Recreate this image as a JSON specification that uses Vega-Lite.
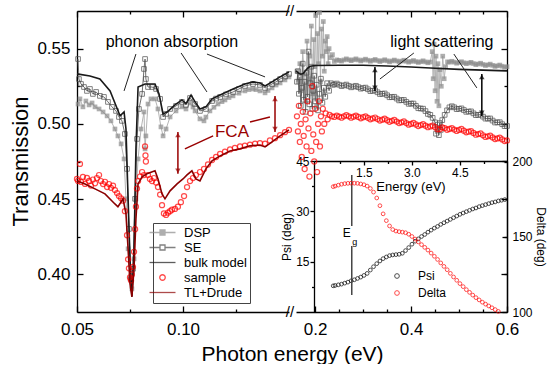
{
"$schema":"https://vega.github.io/schema/vega-lite/v6.json",
"background":"white",
"padding":{"left":9,"top":4,"right":0,"bottom":0},
"config":{"font":"Liberation Sans","view":{"stroke":null},
 "axis":{"grid":false,"domainColor":"#000","domainWidth":1.3,"tickColor":"#000","tickWidth":1.3,"labelColor":"#000","titleColor":"#000","titleFontWeight":"normal","labelFont":"Liberation Sans","titleFont":"Liberation Sans","labelOverlap":false,"labelFlush":false},
 "legend":{"labelFont":"Liberation Sans"}},
"spacing":7,
"bounds":"flush",
"resolve":{"scale":{"x":"independent","y":"independent","color":"independent","stroke":"independent"},"legend":{"color":"independent","stroke":"independent"}},
"datasets":{
"dspL":[{"e":0.0505,"t":0.5132},{"e":0.0514,"t":0.5166},{"e":0.0528,"t":0.5113},{"e":0.0542,"t":0.5152},{"e":0.0557,"t":0.5126},{"e":0.0571,"t":0.5139},{"e":0.0585,"t":0.5113},{"e":0.0604,"t":0.5099},{"e":0.0623,"t":0.5079},{"e":0.0642,"t":0.5053},{"e":0.066,"t":0.502},{"e":0.0679,"t":0.4966},{"e":0.0693,"t":0.492},{"e":0.0708,"t":0.4867},{"e":0.0722,"t":0.4767},{"e":0.0731,"t":0.4502},{"e":0.0741,"t":0.417},{"e":0.075,"t":0.397},{"e":0.0759,"t":0.3904},{"e":0.0769,"t":0.4103},{"e":0.0778,"t":0.4502},{"e":0.0788,"t":0.4767},{"e":0.0802,"t":0.4966},{"e":0.0816,"t":0.5079},{"e":0.0821,"t":0.4834},{"e":0.0825,"t":0.492},{"e":0.0835,"t":0.5132},{"e":0.0849,"t":0.5166},{"e":0.0868,"t":0.5166},{"e":0.0882,"t":0.5099},{"e":0.0896,"t":0.498},{"e":0.0906,"t":0.492},{"e":0.092,"t":0.4966},{"e":0.0939,"t":0.5046},{"e":0.0967,"t":0.5086},{"e":0.0995,"t":0.5113},{"e":0.1014,"t":0.5099},{"e":0.1033,"t":0.5139},{"e":0.1047,"t":0.5112},{"e":0.1057,"t":0.5086},{"e":0.108,"t":0.5033},{"e":0.1099,"t":0.502},{"e":0.1108,"t":0.5045},{"e":0.1127,"t":0.5086},{"e":0.1146,"t":0.511},{"e":0.1165,"t":0.5132},{"e":0.1184,"t":0.5148},{"e":0.1198,"t":0.5159},{"e":0.1217,"t":0.5175},{"e":0.1236,"t":0.5186},{"e":0.1264,"t":0.5204},{"e":0.1292,"t":0.5219},{"e":0.1311,"t":0.5228},{"e":0.133,"t":0.5232},{"e":0.1344,"t":0.5228},{"e":0.1363,"t":0.5219},{"e":0.1387,"t":0.5206},{"e":0.1401,"t":0.5222},{"e":0.142,"t":0.5239},{"e":0.1439,"t":0.5258},{"e":0.1458,"t":0.5272},{"e":0.1481,"t":0.5292},{"e":0.15,"t":0.5312}],
"seL":[{"e":0.0505,"t":0.5431},{"e":0.0509,"t":0.5298},{"e":0.0519,"t":0.5265},{"e":0.0533,"t":0.5245},{"e":0.0547,"t":0.5219},{"e":0.0561,"t":0.5232},{"e":0.0575,"t":0.5199},{"e":0.059,"t":0.5212},{"e":0.0608,"t":0.5186},{"e":0.0627,"t":0.5179},{"e":0.0646,"t":0.5146},{"e":0.0665,"t":0.5113},{"e":0.0684,"t":0.5086},{"e":0.0698,"t":0.5046},{"e":0.0712,"t":0.502},{"e":0.0726,"t":0.4933},{"e":0.0736,"t":0.4701},{"e":0.0745,"t":0.4302},{"e":0.0755,"t":0.397},{"e":0.0764,"t":0.4037},{"e":0.0774,"t":0.4502},{"e":0.0783,"t":0.49},{"e":0.0792,"t":0.5099},{"e":0.0807,"t":0.5199},{"e":0.0816,"t":0.5365},{"e":0.0821,"t":0.5431},{"e":0.0825,"t":0.5298},{"e":0.0835,"t":0.5245},{"e":0.0854,"t":0.5245},{"e":0.0873,"t":0.5232},{"e":0.0892,"t":0.5166},{"e":0.0906,"t":0.5046},{"e":0.092,"t":0.5066},{"e":0.0939,"t":0.5099},{"e":0.0967,"t":0.5119},{"e":0.0995,"t":0.5146},{"e":0.1014,"t":0.5126},{"e":0.1033,"t":0.5172},{"e":0.1057,"t":0.5132},{"e":0.108,"t":0.5086},{"e":0.1108,"t":0.5099},{"e":0.1137,"t":0.5152},{"e":0.1156,"t":0.5168},{"e":0.1175,"t":0.5179},{"e":0.1203,"t":0.5196},{"e":0.1236,"t":0.5212},{"e":0.1264,"t":0.5232},{"e":0.1292,"t":0.5252},{"e":0.133,"t":0.5265},{"e":0.1363,"t":0.5259},{"e":0.1387,"t":0.5239},{"e":0.142,"t":0.5265},{"e":0.1439,"t":0.528},{"e":0.1458,"t":0.5298},{"e":0.1481,"t":0.5315},{"e":0.15,"t":0.5332}],
"bulkL":[{"e":0.05,"t":0.5332},{"e":0.0561,"t":0.5318},{"e":0.0608,"t":0.5298},{"e":0.0656,"t":0.5219},{"e":0.0703,"t":0.5053},{"e":0.0722,"t":0.5079},{"e":0.0731,"t":0.4966},{"e":0.0741,"t":0.4502},{"e":0.075,"t":0.4103},{"e":0.0759,"t":0.3851},{"e":0.0769,"t":0.417},{"e":0.0778,"t":0.4834},{"e":0.0788,"t":0.5245},{"e":0.0821,"t":0.5265},{"e":0.0868,"t":0.5265},{"e":0.0887,"t":0.5199},{"e":0.0906,"t":0.5066},{"e":0.0925,"t":0.5079},{"e":0.0962,"t":0.5126},{"e":0.0995,"t":0.5159},{"e":0.1014,"t":0.5135},{"e":0.1038,"t":0.5192},{"e":0.1057,"t":0.5146},{"e":0.108,"t":0.5099},{"e":0.1108,"t":0.5113},{"e":0.1137,"t":0.5166},{"e":0.1175,"t":0.5192},{"e":0.1236,"t":0.5232},{"e":0.1292,"t":0.5265},{"e":0.133,"t":0.5279},{"e":0.1363,"t":0.5272},{"e":0.1387,"t":0.5252},{"e":0.142,"t":0.5279},{"e":0.1458,"t":0.5312},{"e":0.15,"t":0.5345}],
"sampleL":[{"e":0.05,"t":0.4634},{"e":0.0505,"t":0.4621},{"e":0.0514,"t":0.4734},{"e":0.0519,"t":0.4614},{"e":0.0528,"t":0.4648},{"e":0.0538,"t":0.4601},{"e":0.0547,"t":0.4641},{"e":0.0557,"t":0.4621},{"e":0.0566,"t":0.459},{"e":0.0575,"t":0.463},{"e":0.0585,"t":0.4605},{"e":0.0594,"t":0.464},{"e":0.0604,"t":0.466},{"e":0.0613,"t":0.462},{"e":0.0623,"t":0.46},{"e":0.0632,"t":0.4615},{"e":0.0642,"t":0.458},{"e":0.0651,"t":0.46},{"e":0.066,"t":0.4575},{"e":0.067,"t":0.459},{"e":0.0679,"t":0.456},{"e":0.0689,"t":0.454},{"e":0.0698,"t":0.452},{"e":0.0708,"t":0.4505},{"e":0.0717,"t":0.449},{"e":0.0726,"t":0.442},{"e":0.0736,"t":0.426},{"e":0.0741,"t":0.41},{"e":0.0745,"t":0.404},{"e":0.075,"t":0.398},{"e":0.0755,"t":0.396},{"e":0.0759,"t":0.4},{"e":0.0764,"t":0.405},{"e":0.0769,"t":0.415},{"e":0.0774,"t":0.43},{"e":0.0778,"t":0.445},{"e":0.0783,"t":0.457},{"e":0.0788,"t":0.462},{"e":0.0797,"t":0.465},{"e":0.0807,"t":0.468},{"e":0.0816,"t":0.466},{"e":0.0821,"t":0.485},{"e":0.0823,"t":0.479},{"e":0.0825,"t":0.475},{"e":0.0835,"t":0.466},{"e":0.0844,"t":0.4634},{"e":0.0854,"t":0.462},{"e":0.0863,"t":0.464},{"e":0.0873,"t":0.461},{"e":0.0882,"t":0.458},{"e":0.0892,"t":0.453},{"e":0.0901,"t":0.446},{"e":0.091,"t":0.4405},{"e":0.092,"t":0.4395},{"e":0.0929,"t":0.441},{"e":0.0939,"t":0.442},{"e":0.0948,"t":0.443},{"e":0.0962,"t":0.4435},{"e":0.0976,"t":0.445},{"e":0.099,"t":0.448},{"e":0.1005,"t":0.452},{"e":0.1019,"t":0.458},{"e":0.1033,"t":0.462},{"e":0.1047,"t":0.464},{"e":0.1061,"t":0.466},{"e":0.108,"t":0.468},{"e":0.1099,"t":0.47},{"e":0.1118,"t":0.473},{"e":0.1137,"t":0.476},{"e":0.1156,"t":0.478},{"e":0.1175,"t":0.48},{"e":0.1198,"t":0.4815},{"e":0.1222,"t":0.483},{"e":0.1245,"t":0.484},{"e":0.1269,"t":0.485},{"e":0.1292,"t":0.4855},{"e":0.1316,"t":0.4862},{"e":0.134,"t":0.4868},{"e":0.1363,"t":0.4872},{"e":0.1387,"t":0.4868},{"e":0.141,"t":0.489},{"e":0.1434,"t":0.4905},{"e":0.1458,"t":0.4925},{"e":0.1481,"t":0.4945},{"e":0.15,"t":0.496}],
"tlL":[{"e":0.05,"t":0.4621},{"e":0.0538,"t":0.4601},{"e":0.0585,"t":0.4568},{"e":0.0632,"t":0.4535},{"e":0.0679,"t":0.4468},{"e":0.0693,"t":0.4449},{"e":0.0708,"t":0.4481},{"e":0.0717,"t":0.4502},{"e":0.0731,"t":0.4402},{"e":0.0741,"t":0.417},{"e":0.075,"t":0.3937},{"e":0.0759,"t":0.3851},{"e":0.0769,"t":0.4037},{"e":0.0778,"t":0.4369},{"e":0.0788,"t":0.4601},{"e":0.0807,"t":0.4648},{"e":0.083,"t":0.4668},{"e":0.0868,"t":0.4688},{"e":0.0882,"t":0.4634},{"e":0.0901,"t":0.4535},{"e":0.0915,"t":0.4502},{"e":0.0939,"t":0.4555},{"e":0.0972,"t":0.4601},{"e":0.1,"t":0.4634},{"e":0.1019,"t":0.4661},{"e":0.1042,"t":0.4688},{"e":0.1061,"t":0.4634},{"e":0.108,"t":0.4621},{"e":0.1108,"t":0.4701},{"e":0.1137,"t":0.4754},{"e":0.1175,"t":0.4787},{"e":0.1222,"t":0.482},{"e":0.1269,"t":0.4834},{"e":0.1316,"t":0.4854},{"e":0.1363,"t":0.486},{"e":0.1387,"t":0.4847},{"e":0.142,"t":0.488},{"e":0.1458,"t":0.492},{"e":0.15,"t":0.496}],
"phononLines":[{"x1":0.0778,"y1":0.5464,"x2":0.0722,"y2":0.5219},{"x1":0.0991,"y1":0.5471,"x2":0.1113,"y2":0.5212},{"x1":0.1113,"y1":0.5464,"x2":0.1387,"y2":0.5312}],
"fcaLines":[{"x1":0.1009,"y1":0.4834,"x2":0.1142,"y2":0.492},{"x1":0.1316,"y1":0.5013,"x2":0.141,"y2":0.5046}],
"arrowsL":[{"e":0.0976,"top":0.4946,"bot":0.4668},{"e":0.1434,"top":0.5186,"bot":0.4946}],
"textPhonon":[{"e":0.0948,"t":0.5544,"label":"phonon absorption"}],
"textFCA":[{"e":0.1231,"t":0.4946,"label":"FCA"}],
"breaks":[{"e":0.15,"t":0.575,"label":"//"},{"e":0.15,"t":0.375,"label":"//"}],
"dspR":[{"e":0.162,"t":0.535},{"e":0.165,"t":0.528},{"e":0.168,"t":0.54},{"e":0.171,"t":0.522},{"e":0.174,"t":0.548},{"e":0.177,"t":0.533},{"e":0.18,"t":0.515},{"e":0.183,"t":0.555},{"e":0.186,"t":0.53},{"e":0.189,"t":0.545},{"e":0.192,"t":0.565},{"e":0.195,"t":0.52},{"e":0.197,"t":0.556},{"e":0.199,"t":0.538},{"e":0.201,"t":0.572},{"e":0.203,"t":0.512},{"e":0.205,"t":0.56},{"e":0.207,"t":0.54},{"e":0.209,"t":0.574},{"e":0.211,"t":0.528},{"e":0.213,"t":0.563},{"e":0.215,"t":0.545},{"e":0.217,"t":0.568},{"e":0.219,"t":0.535},{"e":0.221,"t":0.555},{"e":0.223,"t":0.548},{"e":0.225,"t":0.558},{"e":0.227,"t":0.54},{"e":0.229,"t":0.55},{"e":0.232,"t":0.544},{"e":0.236,"t":0.546},{"e":0.24,"t":0.5415},{"e":0.25,"t":0.5422},{"e":0.26,"t":0.5425},{"e":0.27,"t":0.5426},{"e":0.28,"t":0.5426},{"e":0.29,"t":0.5425},{"e":0.3,"t":0.5424},{"e":0.31,"t":0.5423},{"e":0.32,"t":0.5422},{"e":0.33,"t":0.5421},{"e":0.34,"t":0.542},{"e":0.35,"t":0.5419},{"e":0.36,"t":0.5418},{"e":0.37,"t":0.5418},{"e":0.38,"t":0.5417},{"e":0.39,"t":0.5416},{"e":0.4,"t":0.5415},{"e":0.41,"t":0.5414},{"e":0.42,"t":0.5413},{"e":0.43,"t":0.5412},{"e":0.44,"t":0.5411},{"e":0.444,"t":0.548},{"e":0.446,"t":0.53},{"e":0.448,"t":0.553},{"e":0.45,"t":0.522},{"e":0.452,"t":0.545},{"e":0.454,"t":0.515},{"e":0.456,"t":0.54},{"e":0.458,"t":0.512},{"e":0.46,"t":0.536},{"e":0.463,"t":0.525},{"e":0.466,"t":0.545},{"e":0.469,"t":0.53},{"e":0.472,"t":0.538},{"e":0.476,"t":0.5412},{"e":0.48,"t":0.541},{"e":0.49,"t":0.541},{"e":0.5,"t":0.5408},{"e":0.51,"t":0.5406},{"e":0.52,"t":0.5404},{"e":0.53,"t":0.5401},{"e":0.54,"t":0.5398},{"e":0.55,"t":0.5395},{"e":0.56,"t":0.5392},{"e":0.57,"t":0.5389},{"e":0.58,"t":0.5386},{"e":0.59,"t":0.5383},{"e":0.6,"t":0.538},
 {"e":0.245,"t":0.5425},{"e":0.255,"t":0.5417},{"e":0.265,"t":0.5432},{"e":0.275,"t":0.542},{"e":0.285,"t":0.5432},{"e":0.295,"t":0.5418},{"e":0.305,"t":0.543},{"e":0.315,"t":0.5416},{"e":0.325,"t":0.5428},{"e":0.335,"t":0.5414},{"e":0.345,"t":0.5426},{"e":0.355,"t":0.5412},{"e":0.365,"t":0.5424},{"e":0.375,"t":0.5411},{"e":0.385,"t":0.5423},{"e":0.395,"t":0.541},{"e":0.405,"t":0.5421},{"e":0.415,"t":0.5408},{"e":0.425,"t":0.5419},{"e":0.435,"t":0.5406},{"e":0.485,"t":0.5416},{"e":0.495,"t":0.5403},{"e":0.505,"t":0.5413},{"e":0.515,"t":0.54},{"e":0.525,"t":0.5409},{"e":0.535,"t":0.5394},{"e":0.545,"t":0.5403},{"e":0.555,"t":0.5388},{"e":0.565,"t":0.5397},{"e":0.575,"t":0.5382},{"e":0.585,"t":0.5391},{"e":0.595,"t":0.5376}],
"seR":[{"e":0.162,"t":0.528},{"e":0.164,"t":0.535},{"e":0.166,"t":0.52},{"e":0.168,"t":0.531},{"e":0.17,"t":0.512},{"e":0.172,"t":0.524},{"e":0.174,"t":0.54},{"e":0.176,"t":0.516},{"e":0.178,"t":0.528},{"e":0.18,"t":0.508},{"e":0.182,"t":0.534},{"e":0.184,"t":0.518},{"e":0.186,"t":0.548},{"e":0.188,"t":0.513},{"e":0.19,"t":0.527},{"e":0.192,"t":0.538},{"e":0.194,"t":0.51},{"e":0.196,"t":0.522},{"e":0.198,"t":0.532},{"e":0.2,"t":0.515},{"e":0.203,"t":0.526},{"e":0.206,"t":0.509},{"e":0.209,"t":0.52},{"e":0.212,"t":0.53},{"e":0.215,"t":0.514},{"e":0.218,"t":0.524},{"e":0.221,"t":0.518},{"e":0.225,"t":0.527},{"e":0.229,"t":0.522},{"e":0.233,"t":0.527},{"e":0.237,"t":0.526},{"e":0.24,"t":0.5262},{"e":0.25,"t":0.526},{"e":0.26,"t":0.5256},{"e":0.27,"t":0.5252},{"e":0.28,"t":0.5248},{"e":0.29,"t":0.5244},{"e":0.3,"t":0.5238},{"e":0.31,"t":0.523},{"e":0.32,"t":0.522},{"e":0.33,"t":0.521},{"e":0.34,"t":0.52},{"e":0.35,"t":0.519},{"e":0.36,"t":0.5178},{"e":0.37,"t":0.5168},{"e":0.38,"t":0.5158},{"e":0.39,"t":0.5146},{"e":0.4,"t":0.5135},{"e":0.41,"t":0.512},{"e":0.42,"t":0.5102},{"e":0.43,"t":0.5085},{"e":0.44,"t":0.506},{"e":0.445,"t":0.504},{"e":0.45,"t":0.501},{"e":0.452,"t":0.4935},{"e":0.455,"t":0.4995},{"e":0.458,"t":0.4925},{"e":0.46,"t":0.5005},{"e":0.462,"t":0.496},{"e":0.465,"t":0.5025},{"e":0.47,"t":0.506},{"e":0.475,"t":0.509},{"e":0.48,"t":0.511},{"e":0.49,"t":0.511},{"e":0.5,"t":0.51},{"e":0.51,"t":0.5092},{"e":0.52,"t":0.5082},{"e":0.53,"t":0.507},{"e":0.54,"t":0.506},{"e":0.55,"t":0.5048},{"e":0.56,"t":0.5035},{"e":0.57,"t":0.5022},{"e":0.58,"t":0.501},{"e":0.59,"t":0.4998},{"e":0.6,"t":0.4986},
 {"e":0.245,"t":0.5268},{"e":0.255,"t":0.5251},{"e":0.265,"t":0.5261},{"e":0.275,"t":0.5243},{"e":0.285,"t":0.5253},{"e":0.295,"t":0.5234},{"e":0.305,"t":0.5241},{"e":0.315,"t":0.5218},{"e":0.325,"t":0.5222},{"e":0.335,"t":0.5198},{"e":0.345,"t":0.5202},{"e":0.355,"t":0.5177},{"e":0.365,"t":0.518},{"e":0.375,"t":0.5156},{"e":0.385,"t":0.5159},{"e":0.395,"t":0.5133},{"e":0.405,"t":0.5135},{"e":0.415,"t":0.5104},{"e":0.425,"t":0.5101},{"e":0.435,"t":0.5066},{"e":0.485,"t":0.5117},{"e":0.495,"t":0.5098},{"e":0.505,"t":0.5103},{"e":0.515,"t":0.508},{"e":0.525,"t":0.5083},{"e":0.535,"t":0.5058},{"e":0.545,"t":0.5061},{"e":0.555,"t":0.5035},{"e":0.565,"t":0.5036},{"e":0.575,"t":0.5009},{"e":0.585,"t":0.5011},{"e":0.595,"t":0.4985}],
"sampleR":[{"e":0.162,"t":0.505},{"e":0.164,"t":0.495},{"e":0.166,"t":0.512},{"e":0.168,"t":0.488},{"e":0.17,"t":0.5},{"e":0.172,"t":0.478},{"e":0.174,"t":0.508},{"e":0.176,"t":0.492},{"e":0.178,"t":0.47},{"e":0.18,"t":0.503},{"e":0.182,"t":0.485},{"e":0.184,"t":0.515},{"e":0.186,"t":0.497},{"e":0.188,"t":0.465},{"e":0.19,"t":0.507},{"e":0.192,"t":0.482},{"e":0.194,"t":0.525},{"e":0.196,"t":0.493},{"e":0.198,"t":0.475},{"e":0.2,"t":0.51},{"e":0.202,"t":0.488},{"e":0.204,"t":0.468},{"e":0.206,"t":0.5},{"e":0.208,"t":0.515},{"e":0.21,"t":0.485},{"e":0.212,"t":0.505},{"e":0.214,"t":0.495},{"e":0.216,"t":0.51},{"e":0.219,"t":0.5},{"e":0.222,"t":0.507},{"e":0.226,"t":0.503},{"e":0.23,"t":0.506},{"e":0.235,"t":0.505},{"e":0.24,"t":0.5046},{"e":0.25,"t":0.5048},{"e":0.26,"t":0.505},{"e":0.27,"t":0.505},{"e":0.28,"t":0.5048},{"e":0.29,"t":0.5046},{"e":0.3,"t":0.5044},{"e":0.31,"t":0.504},{"e":0.32,"t":0.5036},{"e":0.33,"t":0.5032},{"e":0.34,"t":0.5028},{"e":0.35,"t":0.5024},{"e":0.36,"t":0.502},{"e":0.37,"t":0.5015},{"e":0.38,"t":0.501},{"e":0.39,"t":0.5005},{"e":0.4,"t":0.5},{"e":0.41,"t":0.4996},{"e":0.42,"t":0.4992},{"e":0.43,"t":0.4988},{"e":0.44,"t":0.4983},{"e":0.45,"t":0.4978},{"e":0.46,"t":0.4965},{"e":0.47,"t":0.4972},{"e":0.48,"t":0.4966},{"e":0.49,"t":0.4962},{"e":0.5,"t":0.496},{"e":0.51,"t":0.4955},{"e":0.52,"t":0.4948},{"e":0.53,"t":0.494},{"e":0.54,"t":0.4932},{"e":0.55,"t":0.4924},{"e":0.56,"t":0.4917},{"e":0.57,"t":0.491},{"e":0.58,"t":0.4903},{"e":0.59,"t":0.4897},{"e":0.6,"t":0.489},
 {"e":0.245,"t":0.5055},{"e":0.255,"t":0.5041},{"e":0.265,"t":0.5058},{"e":0.275,"t":0.5041},{"e":0.285,"t":0.5055},{"e":0.295,"t":0.5037},{"e":0.305,"t":0.505},{"e":0.315,"t":0.503},{"e":0.325,"t":0.5042},{"e":0.335,"t":0.5022},{"e":0.345,"t":0.5034},{"e":0.355,"t":0.5014},{"e":0.365,"t":0.5026},{"e":0.375,"t":0.5005},{"e":0.385,"t":0.5016},{"e":0.395,"t":0.4995},{"e":0.405,"t":0.5006},{"e":0.415,"t":0.4986},{"e":0.425,"t":0.4998},{"e":0.435,"t":0.4978},{"e":0.445,"t":0.4989},{"e":0.455,"t":0.4964},{"e":0.465,"t":0.4977},{"e":0.475,"t":0.4961},{"e":0.485,"t":0.4972},{"e":0.495,"t":0.4953},{"e":0.505,"t":0.4966},{"e":0.515,"t":0.4944},{"e":0.525,"t":0.4952},{"e":0.535,"t":0.4928},{"e":0.545,"t":0.4936},{"e":0.555,"t":0.4913},{"e":0.565,"t":0.4922},{"e":0.575,"t":0.4899},{"e":0.585,"t":0.4908},{"e":0.595,"t":0.4886}],
"bulkR":[{"e":0.16,"t":0.5352},{"e":0.165,"t":0.5338},{"e":0.17,"t":0.533},{"e":0.175,"t":0.5335},{"e":0.18,"t":0.5355},{"e":0.185,"t":0.5372},{"e":0.19,"t":0.5383},{"e":0.2,"t":0.5388},{"e":0.25,"t":0.539},{"e":0.3,"t":0.539},{"e":0.35,"t":0.5385},{"e":0.4,"t":0.5378},{"e":0.45,"t":0.537},{"e":0.5,"t":0.5362},{"e":0.55,"t":0.5357},{"e":0.6,"t":0.5352}],
"lightLines":[{"x1":0.4058,"y1":0.5471,"x2":0.335,"y2":0.5298},{"x1":0.4892,"y1":0.5464,"x2":0.5371,"y2":0.5239}],
"arrowsR":[{"e":0.3246,"top":0.5378,"bot":0.5219},{"e":0.5475,"top":0.5332,"bot":0.5053}],
"textLight":[{"e":0.4642,"t":0.5544,"label":"light scattering"}],
"egLines":[{"en":1.12,"psi":40.8,"psi2":25.6},{"en":1.12,"psi":19.7,"psi2":5.1}],
"textE":[{"en":1.12,"psi":23.6,"label":"E"}],
"textG":[{"en":1.12,"psi":20.8,"label":"g"}],
"psi":[{"en":0.54,"psi":7.8},{"en":0.6,"psi":7.9},{"en":0.7,"psi":8.1},{"en":0.8,"psi":8.3},{"en":0.9,"psi":8.6},{"en":1.0,"psi":8.9},{"en":1.1,"psi":9.3},{"en":1.2,"psi":9.6},{"en":1.3,"psi":10.0},{"en":1.4,"psi":10.4},{"en":1.5,"psi":10.9},{"en":1.6,"psi":11.5},{"en":1.7,"psi":12.5},{"en":1.8,"psi":13.5},{"en":1.9,"psi":14.4},{"en":2.0,"psi":15.2},{"en":2.1,"psi":15.9},{"en":2.2,"psi":16.4},{"en":2.3,"psi":16.8},{"en":2.4,"psi":17.0},{"en":2.5,"psi":17.1},{"en":2.6,"psi":17.2},{"en":2.7,"psi":17.5},{"en":2.8,"psi":18.3},{"en":2.9,"psi":19.2},{"en":3.0,"psi":20.2},{"en":3.1,"psi":21.1},{"en":3.2,"psi":21.8},{"en":3.3,"psi":22.5},{"en":3.4,"psi":23.1},{"en":3.5,"psi":23.8},{"en":3.6,"psi":24.4},{"en":3.7,"psi":25.0},{"en":3.8,"psi":25.5},{"en":3.9,"psi":26.1},{"en":4.0,"psi":26.6},{"en":4.1,"psi":27.1},{"en":4.2,"psi":27.6},{"en":4.3,"psi":28.1},{"en":4.4,"psi":28.6},{"en":4.5,"psi":29.1},{"en":4.6,"psi":29.5},{"en":4.7,"psi":29.9},{"en":4.8,"psi":30.3},{"en":4.9,"psi":30.7},{"en":5.0,"psi":31.0},{"en":5.1,"psi":31.4},{"en":5.2,"psi":31.7},{"en":5.3,"psi":32.0},{"en":5.4,"psi":32.3},{"en":5.5,"psi":32.6},{"en":5.6,"psi":32.8},{"en":5.7,"psi":33.1},{"en":5.8,"psi":33.3},{"en":5.9,"psi":33.5}],
"delta":[{"en":0.54,"d":183.0},{"en":0.6,"d":183.4},{"en":0.7,"d":184.0},{"en":0.8,"d":184.6},{"en":0.9,"d":185.0},{"en":1.0,"d":185.2},{"en":1.1,"d":185.3},{"en":1.2,"d":185.3},{"en":1.3,"d":185.2},{"en":1.4,"d":184.8},{"en":1.5,"d":184.3},{"en":1.6,"d":183.4},{"en":1.7,"d":181.8},{"en":1.8,"d":179.4},{"en":1.9,"d":175.5},{"en":2.0,"d":170.4},{"en":2.1,"d":165.0},{"en":2.2,"d":160.5},{"en":2.3,"d":157.0},{"en":2.4,"d":154.6},{"en":2.5,"d":153.6},{"en":2.6,"d":153.2},{"en":2.7,"d":152.9},{"en":2.8,"d":152.5},{"en":2.9,"d":151.5},{"en":3.0,"d":150.0},{"en":3.1,"d":148.3},{"en":3.2,"d":146.4},{"en":3.3,"d":144.6},{"en":3.4,"d":142.8},{"en":3.5,"d":141.0},{"en":3.6,"d":139.0},{"en":3.7,"d":136.9},{"en":3.8,"d":134.8},{"en":3.9,"d":132.5},{"en":4.0,"d":130.2},{"en":4.1,"d":128.0},{"en":4.2,"d":125.6},{"en":4.3,"d":123.2},{"en":4.4,"d":121.0},{"en":4.5,"d":118.8},{"en":4.6,"d":116.8},{"en":4.7,"d":114.8},{"en":4.8,"d":113.0},{"en":4.9,"d":111.2},{"en":5.0,"d":109.5},{"en":5.1,"d":108.0},{"en":5.2,"d":106.5},{"en":5.3,"d":105.2},{"en":5.4,"d":104.0},{"en":5.5,"d":102.8},{"en":5.6,"d":101.6},{"en":5.7,"d":100.4}]
},
"hconcat":[
{
"width":212,"height":301,
"layer":[
 {
 "encoding":{
  "x":{"field":"e","type":"quantitative","scale":{"domain":[0.05,0.15],"nice":false,"zero":false},
   "axis":{"orient":"bottom","values":[0.05,0.075,0.1,0.125],"labelExpr":"indexof([0.05,0.1], datum.value) >= 0 ? format(datum.value, '.2f') : ''","tickSize":{"condition":{"test":"indexof([0.05,0.1], datum.value) >= 0","value":-6},"value":-3},"labelPadding":15,"labelFontSize":17,"title":"Photon energy (eV)","titleFontSize":21,"titleX":215,"titleY":31,"titleAlign":"center","titleBaseline":"top"}},
  "y":{"field":"t","type":"quantitative","scale":{"domain":[0.375,0.575],"nice":false,"zero":false},
   "axis":{"orient":"left","values":[0.4,0.425,0.45,0.475,0.5,0.525,0.55],"labelExpr":"indexof([0.4,0.45,0.5,0.55], datum.value) >= 0 ? format(datum.value, '.2f') : ''","tickSize":{"condition":{"test":"indexof([0.4,0.45,0.5,0.55], datum.value) >= 0","value":-6},"value":-3},"labelPadding":13,"labelFontSize":17,"title":"Transmission","titleFontSize":22,"titleX":-57,"titleY":150,"titleAngle":-90,"titleAlign":"center","titleBaseline":"middle"}}
 },
 "layer":[
  {"data":{"name":"dspL"},"mark":{"type":"line","color":"#b4b4b4","strokeWidth":1}},
  {"data":{"name":"dspL"},"mark":{"type":"point","shape":"square","filled":true,"size":22,"color":"#8c8c8c"}},
  {"data":{"name":"seL"},"mark":{"type":"line","color":"#707070","strokeWidth":1}},
  {"data":{"name":"seL"},"mark":{"type":"point","shape":"square","filled":false,"size":22,"strokeWidth":1},
   "encoding":{"stroke":{"datum":"SE","type":"nominal","scale":{"domain":["DSP","SE","bulk model","sample","TL+Drude"],"range":["#8c8c8c","#4d4d4d","#1a1a1a","#ff0000","#8b0000"]},
    "legend":{"orient":"none","legendX":76,"legendY":212,"title":null,"symbolSize":100,"labelOffset":15,"labelFontSize":13,"labelColor":"#000","strokeColor":"#444","padding":3,"rowPadding":1,"symbolStrokeWidth":1.3,
     "encoding":{"symbols":{"shape":{"value":{"expr":"datum.value === 'DSP' ? 'M-2.6,0H2.6M-0.5,-0.5H0.5V0.5H-0.5ZM-0.5,-0.25H0.5M-0.5,0.25H0.5' : (datum.value === 'SE' ? 'M-2.6,0H-0.5M0.5,0H2.6M-0.5,-0.5H0.5V0.5H-0.5Z' : (datum.value === 'sample' ? 'M0.55,0A0.55,0.55,0,1,1,-0.55,0A0.55,0.55,0,1,1,0.55,0' : 'M-2.6,0H2.6'))"}},"fill":{"value":"transparent"},"fillOpacity":{"value":0}}}}}}},
  {"data":{"name":"bulkL"},"mark":{"type":"line","strokeWidth":1.6},"encoding":{"stroke":{"datum":"bulk model","type":"nominal"}}},
  {"data":{"name":"sampleL"},"mark":{"type":"point","shape":"circle","filled":false,"size":26,"strokeWidth":1.2},"encoding":{"stroke":{"datum":"sample","type":"nominal"}}},
  {"data":{"name":"tlL"},"mark":{"type":"line","strokeWidth":1.6},"encoding":{"stroke":{"datum":"TL+Drude","type":"nominal"}}},
  {"data":{"name":"phononLines"},"mark":{"type":"rule","color":"#222","strokeWidth":1},"encoding":{"x":{"field":"x1","type":"quantitative"},"y":{"field":"y1","type":"quantitative"},"x2":{"field":"x2"},"y2":{"field":"y2"}}},
  {"data":{"name":"fcaLines"},"mark":{"type":"rule","color":"#990000","strokeWidth":1.5},"encoding":{"x":{"field":"x1","type":"quantitative"},"y":{"field":"y1","type":"quantitative"},"x2":{"field":"x2"},"y2":{"field":"y2"}}},
  {"data":{"name":"arrowsL"},"mark":{"type":"rule","color":"#990000","strokeWidth":1.5},"encoding":{"y":{"field":"top","type":"quantitative"},"y2":{"field":"bot"}}},
  {"data":{"name":"arrowsL"},"mark":{"type":"point","shape":"triangle-up","filled":true,"size":30,"color":"#990000","yOffset":3},"encoding":{"y":{"field":"top","type":"quantitative"}}},
  {"data":{"name":"arrowsL"},"mark":{"type":"point","shape":"triangle-down","filled":true,"size":30,"color":"#990000","yOffset":-3},"encoding":{"y":{"field":"bot","type":"quantitative"}}},
  {"data":{"name":"textPhonon"},"mark":{"type":"text","fontSize":16,"color":"#000","font":"Liberation Sans"},"encoding":{"text":{"field":"label"}}},
  {"data":{"name":"textFCA"},"mark":{"type":"text","fontSize":17,"color":"#990000","font":"Liberation Sans"},"encoding":{"text":{"field":"label"}}},
  {"data":{"name":"breaks"},"mark":{"type":"text","fontSize":15,"dx":1,"color":"#000","font":"Liberation Sans"},"encoding":{"text":{"field":"label"}}}
 ]
 },
 {"data":{"values":[]},"mark":"point","encoding":{"x":{"field":"e","type":"quantitative","scale":{"domain":[0.05,0.15],"nice":false,"zero":false},
   "axis":{"orient":"top","values":[0.05,0.075,0.1,0.125],"labels":false,"title":null,"tickSize":{"condition":{"test":"indexof([0.05,0.1], datum.value) >= 0","value":-6},"value":-3}}}}}
],
"resolve":{"scale":{"x":"independent"}}
},
{
"width":211,"height":301,
"layer":[
 {
 "encoding":{
  "x":{"field":"e","type":"quantitative","scale":{"domain":[0.16,0.6],"nice":false,"zero":false},
   "axis":{"orient":"bottom","values":[0.2,0.25,0.3,0.35,0.4,0.45,0.5,0.55,0.6],"labelExpr":"indexof([0.2,0.4,0.6], datum.value) >= 0 ? format(datum.value, '.1f') : ''","tickSize":{"condition":{"test":"indexof([0.2,0.4,0.6], datum.value) >= 0","value":-6},"value":-3},"labelPadding":15,"labelFontSize":17,"title":null}},
  "y":{"field":"t","type":"quantitative","scale":{"domain":[0.375,0.575],"nice":false,"zero":false},
   "axis":{"orient":"right","values":[0.4,0.425,0.45,0.475,0.5,0.525,0.55],"labels":false,"title":null,"tickSize":{"condition":{"test":"indexof([0.4,0.45,0.5,0.55], datum.value) >= 0","value":-6},"value":-3}}}
 },
 "layer":[
  {"data":{"name":"dspR"},"mark":{"type":"line","color":"#b4b4b4","strokeWidth":1}},
  {"data":{"name":"dspR"},"mark":{"type":"point","shape":"square","filled":true,"size":22,"color":"#8c8c8c"}},
  {"data":{"name":"seR"},"mark":{"type":"line","color":"#707070","strokeWidth":1}},
  {"data":{"name":"seR"},"mark":{"type":"point","shape":"square","filled":false,"size":22,"strokeWidth":1,"color":"#4d4d4d"}},
  {"data":{"name":"bulkR"},"mark":{"type":"line","strokeWidth":1.6,"color":"#1a1a1a"}},
  {"data":{"name":"sampleR"},"mark":{"type":"point","shape":"circle","filled":false,"size":26,"strokeWidth":1.2,"color":"#ff0000"}},
  {"data":{"name":"lightLines"},"mark":{"type":"rule","color":"#222","strokeWidth":1},"encoding":{"x":{"field":"x1","type":"quantitative"},"y":{"field":"y1","type":"quantitative"},"x2":{"field":"x2"},"y2":{"field":"y2"}}},
  {"data":{"name":"arrowsR"},"mark":{"type":"rule","color":"#000","strokeWidth":1.5},"encoding":{"y":{"field":"top","type":"quantitative"},"y2":{"field":"bot"}}},
  {"data":{"name":"arrowsR"},"mark":{"type":"point","shape":"triangle-up","filled":true,"size":30,"color":"#000","yOffset":3},"encoding":{"y":{"field":"top","type":"quantitative"}}},
  {"data":{"name":"arrowsR"},"mark":{"type":"point","shape":"triangle-down","filled":true,"size":30,"color":"#000","yOffset":-3},"encoding":{"y":{"field":"bot","type":"quantitative"}}},
  {"data":{"name":"textLight"},"mark":{"type":"text","fontSize":16,"color":"#000","font":"Liberation Sans"},"encoding":{"text":{"field":"label"}}}
 ]
 },
 {"data":{"values":[]},"mark":"point","encoding":{"x":{"field":"e","type":"quantitative","scale":{"domain":[0.16,0.6],"nice":false,"zero":false},
   "axis":{"orient":"top","values":[0.2,0.25,0.3,0.35,0.4,0.45,0.5,0.55,0.6],"labels":false,"title":null,"tickSize":{"condition":{"test":"indexof([0.2,0.4,0.6], datum.value) >= 0","value":-6},"value":-3}}}}},
 {
 "encoding":{"x":{"field":"en","type":"quantitative","scale":{"domain":[-0.06,5.97],"range":[18,211],"nice":false,"zero":false},
   "axis":{"orient":"bottom","offset":-151,"values":[0.75,1.5,2.25,3,3.75,4.5,5.25],"labelExpr":"indexof([1.5,3,4.5], datum.value) >= 0 ? format(datum.value, '.1f') : ''","tickSize":{"condition":{"test":"indexof([1.5,3,4.5], datum.value) >= 0","value":4},"value":2.5},"labelPadding":2,"labelFontSize":12,"title":"Energy (eV)","titleFontSize":13,"titlePadding":2}}},
 "layer":[
  {
  "encoding":{"y":{"field":"psi","type":"quantitative","scale":{"domain":[0,45],"range":[301,150],"nice":false,"zero":false},
    "axis":{"orient":"left","offset":-18,"values":[7.5,15,22.5,30,37.5,45],"labelExpr":"indexof([15,30,45], datum.value) >= 0 ? format(datum.value, 'd') : ''","tickSize":{"condition":{"test":"indexof([15,30,45], datum.value) >= 0","value":4},"value":2.5},"labelPadding":1,"labelFontSize":12,"title":"Psi (deg)","titleFontSize":12,"titlePadding":2}}},
  "layer":[
   {"data":{"name":"psi"},"mark":{"type":"point","filled":false,"size":14,"strokeWidth":1},
    "encoding":{"stroke":{"datum":"Psi","type":"nominal","scale":{"domain":["Psi","Delta"],"range":["#000000","#ff0000"]},
     "legend":{"orient":"none","legendX":95,"legendY":259,"title":null,"symbolType":"circle","symbolSize":22,"symbolStrokeWidth":1,"labelFontSize":12,"labelColor":"#000","labelOffset":15,"rowPadding":5}}}},
   {"data":{"name":"egLines"},"mark":{"type":"rule","color":"#444","strokeWidth":1.5},"encoding":{"y2":{"field":"psi2"}}},
   {"data":{"name":"textE"},"mark":{"type":"text","fontSize":12,"dx":-5,"color":"#000","font":"Liberation Sans"},"encoding":{"text":{"field":"label"}}},
   {"data":{"name":"textG"},"mark":{"type":"text","fontSize":9,"dx":3,"color":"#000","font":"Liberation Sans"},"encoding":{"text":{"field":"label"}}}
  ]
  },
  {"data":{"name":"delta"},"mark":{"type":"point","filled":false,"size":14,"strokeWidth":1},
   "encoding":{"y":{"field":"d","type":"quantitative","scale":{"domain":[100,200],"range":[301,150],"nice":false,"zero":false},
     "axis":{"orient":"right","values":[100,125,150,175,200],"labelExpr":"indexof([100,150,200], datum.value) >= 0 ? format(datum.value, 'd') : ''","tickSize":{"condition":{"test":"indexof([100,150,200], datum.value) >= 0","value":-5},"value":-3},"labelPadding":10,"labelFontSize":12,"title":"Delta (deg)","titleFontSize":12,"titlePadding":1}},
    "stroke":{"datum":"Delta","type":"nominal"}}}
 ],
 "resolve":{"scale":{"y":"independent"}}
 }
],
"resolve":{"scale":{"x":"independent","y":"independent"}}
}
]
}
